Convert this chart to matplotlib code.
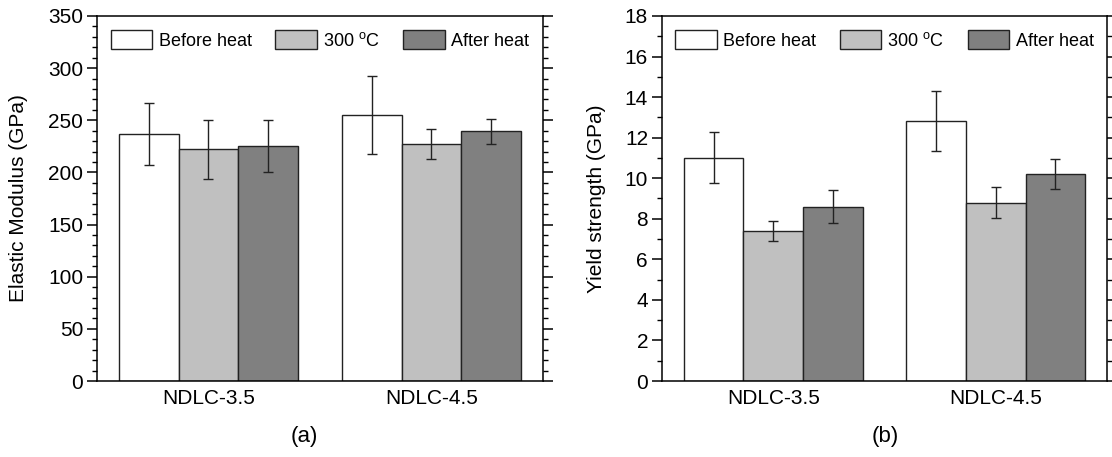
import numpy as np
import matplotlib
matplotlib.use('Agg')
import matplotlib.pyplot as plt
from matplotlib.ticker import MultipleLocator

params = {
    'font.family': ['Liberation Sans', 'DejaVu Sans'],
    'mathtext.fontset': 'custom',
    'mathtext.rm': 'Liberation Sans',
    'axes.linewidth': 1.1,
}
matplotlib.rcParams.update(params)

# ----- data -----
samples = ['NDLC-3.5', 'NDLC-4.5']
series = ['Before heat', '300 $^{\\mathrm{o}}$C', 'After heat']

modulus = {
    'Before heat': [237, 255],
    '300C':        [222, 227.5],
    'After heat':  [225, 239.5],
}
modulus_err = {
    'Before heat': [30, 37],
    '300C':        [28.5, 14.5],
    'After heat':  [25, 12],
}

yield_str = {
    'Before heat': [11.0, 12.8],
    '300C':        [7.38, 8.8],
    'After heat':  [8.6, 10.2],
}
yield_err = {
    'Before heat': [1.26, 1.48],
    '300C':        [0.5, 0.75],
    'After heat':  [0.8, 0.74],
}

keys = ['Before heat', '300C', 'After heat']
colors = ['white', '#c0c0c0', '#808080']

# ----- figure -----
fig = plt.figure(figsize=(11.12, 4.57), dpi=100)
fsize, lsize = 15, 13

ax1 = fig.add_axes([0.0872, 0.1663, 0.4011, 0.7987])
ax2 = fig.add_axes([0.5953, 0.1663, 0.4002, 0.7987])

x = np.arange(1, len(samples) + 1)
bw = 0.268

def draw(ax, vals, errs, ylim, major, minor, ylabel):
    for i, (k, c, lab) in enumerate(zip(keys, colors, series)):
        ax.bar(x + (i - 1) * bw, vals[k], bw, yerr=errs[k], color=c,
               edgecolor='#222222', linewidth=1.0, label=lab,
               error_kw=dict(ecolor='#222222', elinewidth=1.0, capsize=3.5, capthick=1.0))
    ax.set_xlim(0.5, 2.5)
    ax.set_ylim(*ylim)
    ax.set_xticks(x)
    ax.set_xticklabels(samples)
    ax.yaxis.set_major_locator(MultipleLocator(major))
    ax.yaxis.set_minor_locator(MultipleLocator(minor))
    ax.tick_params(axis='x', length=0, labelsize=fsize, pad=6)
    ax.tick_params(axis='y', which='major', direction='out', length=7, width=1.1,
                   labelsize=fsize, right=True, pad=3)
    ax.tick_params(axis='y', which='minor', direction='out', length=3.5, width=1.0, right=True)
    ax.set_ylabel(ylabel, fontsize=fsize)
    ax.legend(loc='upper center', ncol=3, fontsize=lsize, frameon=False,
              handlelength=2.3, handleheight=1.2, handletextpad=0.35,
              columnspacing=1.3, bbox_to_anchor=(0.5, 0.995), borderaxespad=0.3)

draw(ax1, modulus, modulus_err, (0, 350), 50, 10, 'Elastic Modulus (GPa)')
draw(ax2, yield_str, yield_err, (0, 18), 2, 1, 'Yield strength (GPa)')

ax1.yaxis.set_label_coords(-0.155, 0.5)
ax2.yaxis.set_label_coords(-0.125, 0.5)

fig.text(0.274, 0.044, '(a)', fontsize=fsize + 1, ha='center', va='center')
fig.text(0.796, 0.044, '(b)', fontsize=fsize + 1, ha='center', va='center')

fig.savefig('out.png', dpi=100)
